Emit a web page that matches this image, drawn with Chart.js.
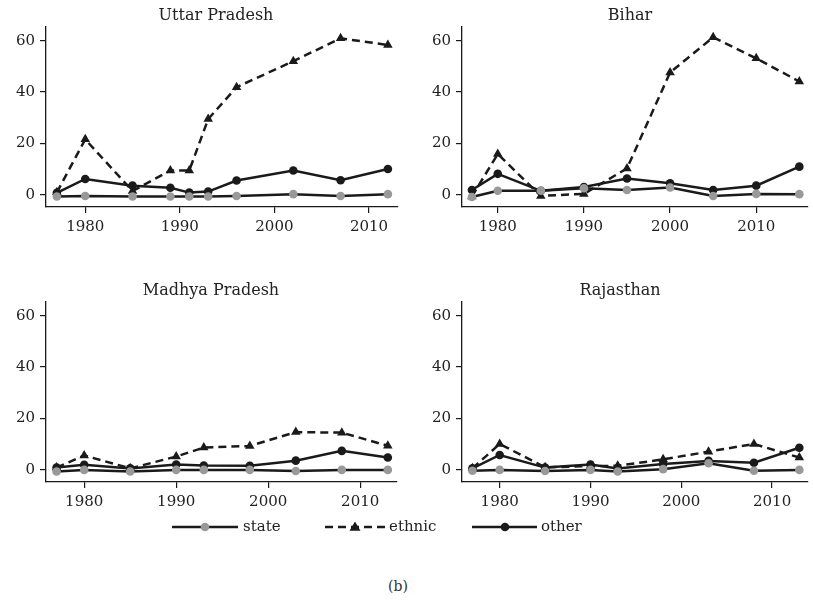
<!DOCTYPE html>
<html>
<head>
<meta charset="utf-8">
<script src="https://cdn.jsdelivr.net/npm/chart.js@4"></script>
<style>
  html, body { margin: 0; padding: 0; background: #fff; }
  body { width: 813px; height: 603px; position: relative; overflow: hidden;
         font-family: "DejaVu Serif", serif; color: #222; }
  canvas { position: absolute; }
  .ttl { position: absolute; width: 300px; text-align: center; font-size: 16px; line-height: 20px; }
  .leg { position: absolute; font-size: 15px; line-height: 18px; top: 517px; }
  #note { position: absolute; top: 578px; left: 0; width: 796px; text-align: center; font-size: 14px; color: #333; }
  svg { position: absolute; left: 0; top: 510px; }
</style>
</head>
<body>
<canvas id="up" width="406" height="250" style="left:0;top:0"></canvas>
<canvas id="bh" width="397" height="250" style="left:416px;top:0"></canvas>
<canvas id="mp" width="406" height="250" style="left:0;top:275px"></canvas>
<canvas id="rj" width="397" height="250" style="left:416px;top:275px"></canvas>

<div class="ttl" style="left:66px;top:5px">Uttar Pradesh</div>
<div class="ttl" style="left:480px;top:5px">Bihar</div>
<div class="ttl" style="left:61px;top:280px">Madhya Pradesh</div>
<div class="ttl" style="left:470px;top:280px">Rajasthan</div>

<svg width="813" height="35" viewBox="0 0 813 35">
  <line x1="172" y1="17" x2="238" y2="17" stroke="#1a1a1a" stroke-width="2.5"/>
  <circle cx="205" cy="17" r="4.3" fill="#999"/>
  <line x1="325" y1="17" x2="385" y2="17" stroke="#1a1a1a" stroke-width="2.5" stroke-dasharray="8 5"/>
  <polygon points="355,11.5 360.5,20.8 349.5,20.8" fill="#1a1a1a"/>
  <line x1="472" y1="17" x2="537" y2="17" stroke="#1a1a1a" stroke-width="2.5"/>
  <circle cx="505" cy="17" r="4.3" fill="#1a1a1a"/>
</svg>
<div class="leg" style="left:243px">state</div>
<div class="leg" style="left:389px">ethnic</div>
<div class="leg" style="left:541px">other</div>
<div id="note">(b)</div>

<script>
// Election years and shares per state, by party type
const upYears   = [1977, 1980, 1985, 1989, 1991, 1993, 1996, 2002, 2007, 2012];
const upState   = [-0.6, -0.4, -0.6, -0.6, -0.6, -0.6, -0.4, 0.3, -0.4, 0.3];
const upEthnic  = [1.0, 21.6, 1.5, 9.5, 9.5, 29.5, 41.9, 52.0, 60.9, 58.3];
const upOther   = [0.8, 6.2, 3.6, 2.8, 0.9, 1.3, 5.6, 9.5, 5.7, 10.1];

const bhYears   = [1977, 1980, 1985, 1990, 1995, 2000, 2005, 2010, 2015];
const bhState   = [-0.8, 1.6, 1.6, 2.6, 1.9, 2.9, -0.4, 0.4, 0.3];
const bhEthnic  = [-0.6, 15.9, -0.4, 0.4, 10.3, 47.6, 61.3, 53.1, 44.1];
const bhOther   = [1.9, 8.2, 1.6, 3.1, 6.4, 4.5, 1.9, 3.6, 11.0];

const mpYears   = [1977, 1980, 1985, 1990, 1993, 1998, 2003, 2008, 2013];
const mpState   = [-0.6, 0, -0.6, 0, 0, 0, -0.4, 0, 0];
const mpEthnic  = [0.9, 5.6, 0.6, 5.2, 8.7, 9.3, 14.7, 14.5, 9.4];
const mpOther   = [0.9, 2.0, 0.6, 2.1, 1.7, 1.6, 3.6, 7.4, 4.8];

const rjYears   = [1977, 1980, 1985, 1990, 1993, 1998, 2003, 2008, 2013];
const rjState   = [-0.3, 0, -0.4, 0, -0.6, 0.3, 2.6, -0.3, 0];
const rjEthnic  = [0.6, 10.1, 1.0, 1.5, 1.6, 4.1, 7.1, 10.1, 4.8];
const rjOther   = [0.6, 5.8, 0.9, 2.1, 0.6, 2.3, 3.5, 2.8, 8.6];

const xTicks = [1980, 1990, 2000, 2010];
const yTicks = [0, 20, 40, 60];

const INK = '#1a1a1a';
const GREY = '#999999';
const FONT = { family: '"DejaVu Serif", serif', size: 15, weight: 'normal' };

function pts(years, vals) {
  return years.map((y, i) => ({ x: y, y: vals[i] }));
}

function panel(id, years, state, ethnic, other, xMax, padRight) {
  return new Chart(document.getElementById(id), {
    type: 'line',
    data: {
      datasets: [
        { label: 'state', data: pts(years, state), borderColor: INK, borderWidth: 2.5,
          pointStyle: 'circle', pointRadius: 4.3, pointBackgroundColor: GREY,
          pointBorderColor: GREY, pointBorderWidth: 0, tension: 0 },
        { label: 'ethnic', data: pts(years, ethnic), borderColor: INK, borderWidth: 2.5,
          borderDash: [8, 5], pointStyle: 'triangle', pointRadius: 5.5,
          pointBackgroundColor: INK, pointBorderColor: INK, pointBorderWidth: 0, tension: 0 },
        { label: 'other', data: pts(years, other), borderColor: INK, borderWidth: 2.5,
          pointStyle: 'circle', pointRadius: 4.3, pointBackgroundColor: INK,
          pointBorderColor: INK, pointBorderWidth: 0, tension: 0 }
      ]
    },
    options: {
      responsive: false,
      animation: false,
      devicePixelRatio: 1,
      clip: false,
      layout: { padding: { left: 0, right: padRight, top: 27, bottom: 0 } },
      plugins: {
        legend: { display: false },
        tooltip: { enabled: false },
        title: { display: false }
      },
      scales: {
        x: {
          type: 'linear', min: 1975.85, max: xMax,
          afterBuildTicks: s => { s.ticks = xTicks.map(v => ({ value: v })); },
          afterFit: s => { s.height = 43; },
          grid: { drawOnChartArea: false, drawTicks: true, tickLength: 6, color: INK, lineWidth: 1.2 },
          border: { display: true, color: INK, width: 1.3 },
          ticks: { font: FONT, color: '#222', padding: 5, maxRotation: 0, callback: v => String(v) }
        },
        y: {
          min: -4.7, max: 65.3,
          afterBuildTicks: s => { s.ticks = yTicks.map(v => ({ value: v })); },
          afterFit: s => { s.width = 46; },
          grid: { drawOnChartArea: false, drawTicks: true, tickLength: 6, color: INK, lineWidth: 1.2 },
          border: { display: true, color: INK, width: 1.3 },
          ticks: { font: FONT, color: '#222', padding: 5, callback: v => String(v) }
        }
      }
    }
  });
}

panel('up', upYears, upState, upEthnic, upOther, 2013.07, 8);
panel('bh', bhYears, bhState, bhEthnic, bhOther, 2015.95, 3);
panel('mp', mpYears, mpState, mpEthnic, mpOther, 2014.0, 9);
panel('rj', rjYears, rjState, rjEthnic, rjOther, 2013.9, 3);
</script>
</body>
</html>
